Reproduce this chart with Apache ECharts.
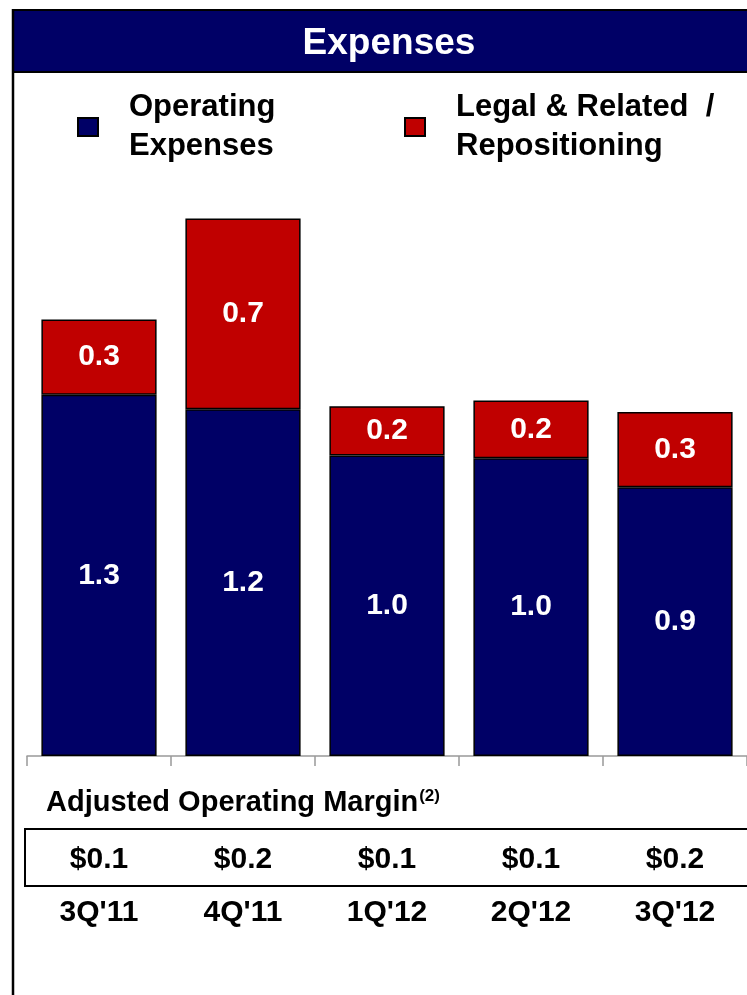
<!DOCTYPE html>
<html>
<head>
<meta charset="utf-8">
<script src="https://cdn.jsdelivr.net/npm/echarts@6/dist/echarts.min.js"></script>
<style>
html,body{margin:0;padding:0;background:#fff;}
#chart{width:747px;height:995px;}
</style>
</head>
<body>
<div id="chart"></div>
<script>
var categories = ["3Q'11", "4Q'11", "1Q'12", "2Q'12", "3Q'12"];
var operatingExpenses = [1.25, 1.20, 1.04, 1.03, 0.93];
var legalRepositioning = [0.26, 0.66, 0.17, 0.20, 0.26];
var adjustedMargin = [0.1, 0.2, 0.1, 0.1, 0.2];
var seriesNames = ['Operating\nExpenses', 'Legal & Related  /\nRepositioning'];

var FONT = '"Liberation Sans", Arial, sans-serif';
var NAVY = '#000066';
var RED = '#C00000';

var chart = echarts.init(document.getElementById('chart'), null, {renderer: 'canvas'});

function legendCfg(name, left) {
  return {
    data: [{name: name, icon: 'rect'}],
    left: left,
    top: 88,
    orient: 'vertical',
    itemWidth: 20,
    itemHeight: 18,
    itemGap: 0,
    padding: 0,
    selectedMode: false,
    textStyle: {
      fontFamily: FONT, fontWeight: 'bold', fontSize: 31, color: '#000',
      lineHeight: 39, padding: [0, 0, 0, 26]
    }
  };
}

var labelStyle = {
  show: true, position: 'inside', color: '#fff',
  fontFamily: FONT, fontWeight: 'bold', fontSize: 30,
  formatter: function (p) { return p.value.toFixed(1); }
};

var option = {
  animation: false,
  backgroundColor: '#fff',
  textStyle: {fontFamily: FONT},
  legend: [legendCfg(seriesNames[0], 77), legendCfg(seriesNames[1], 404)],
  grid: {left: 27, right: -4, top: 178, bottom: 239, containLabel: false},
  xAxis: {
    type: 'category',
    data: categories,
    axisLine: {show: true, lineStyle: {color: '#999', width: 1.5}},
    axisTick: {show: true, length: 10, lineStyle: {color: '#999', width: 1.5}},
    axisLabel: {
      margin: 77,
      formatter: function (val, idx) {
        return '{m|$' + adjustedMargin[idx].toFixed(1) + '}\n{c|' + val + '}';
      },
      rich: {
        m: {fontFamily: FONT, fontWeight: 'bold', fontSize: 30, color: '#000', lineHeight: 53},
        c: {fontFamily: FONT, fontWeight: 'bold', fontSize: 30, color: '#000', lineHeight: 53}
      }
    }
  },
  yAxis: {
    type: 'value', min: 0, max: 2.0, show: false,
    splitLine: {show: false}
  },
  series: [
    {
      name: seriesNames[0],
      type: 'bar',
      stack: 'exp',
      data: operatingExpenses,
      barCategoryGap: '20%',
      itemStyle: {color: NAVY, borderColor: '#000', borderWidth: 1.5},
      label: labelStyle
    },
    {
      name: seriesNames[1],
      type: 'bar',
      stack: 'exp',
      data: legalRepositioning,
      barCategoryGap: '20%',
      itemStyle: {color: RED, borderColor: '#000', borderWidth: 1.5},
      label: labelStyle
    }
  ],
  graphic: [
    {type: 'line', shape: {x1: 13, y1: 9, x2: 13, y2: 995}, style: {stroke: '#000', lineWidth: 2.5}, z: 10},
    {type: 'rect', shape: {x: 13, y: 10, width: 745, height: 62}, style: {fill: NAVY, stroke: '#000', lineWidth: 2}, z: 9},
    {type: 'text', x: 389, y: 44, z: 11,
      style: {text: 'Expenses', fill: '#fff', font: 'bold 37px ' + FONT, textAlign: 'center', textVerticalAlign: 'middle'}},
    {type: 'text', x: 46, y: 803, z: 11,
      style: {
        text: '{a|Adjusted Operating Margin}{s|(2)}',
        textVerticalAlign: 'middle',
        rich: {
          a: {fontFamily: FONT, fontWeight: 'bold', fontSize: 29, fill: '#000', color: '#000'},
          s: {fontFamily: FONT, fontWeight: 'bold', fontSize: 17, fill: '#000', color: '#000', padding: [0, 0, 14, 1]}
        }
      }},
    {type: 'rect', shape: {x: 25, y: 829, width: 740, height: 57}, style: {fill: 'none', stroke: '#000', lineWidth: 2}, z: 5}
  ]
};
chart.setOption(option);
</script>
</body>
</html>
